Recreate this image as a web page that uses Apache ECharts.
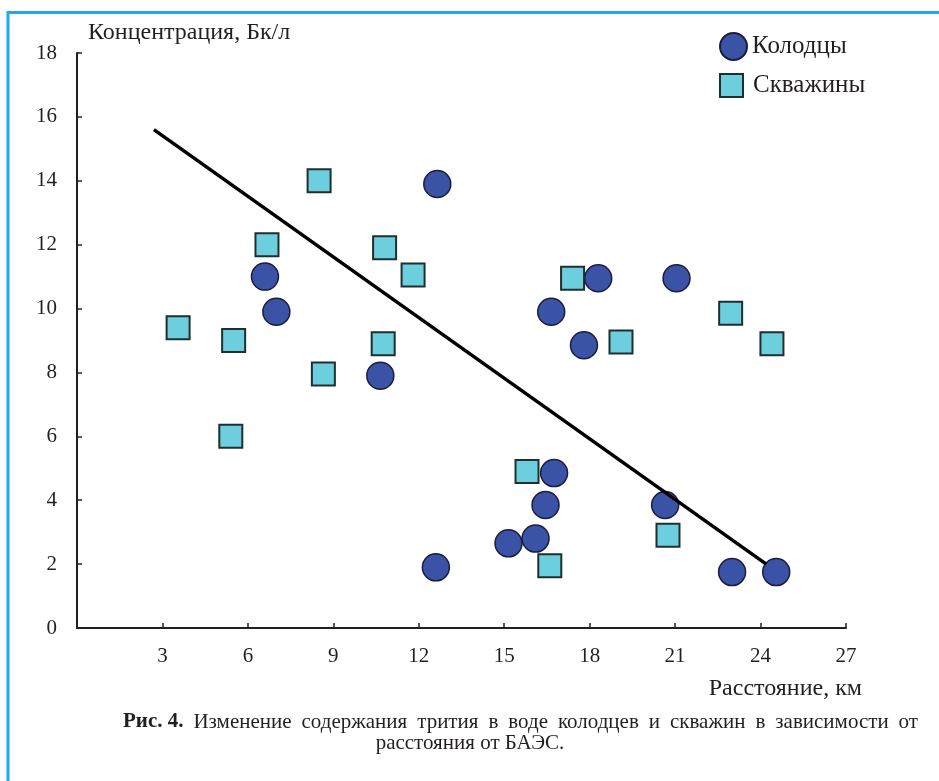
<!DOCTYPE html>
<html>
<head>
<meta charset="utf-8">
<script src="https://cdn.jsdelivr.net/npm/echarts@6/dist/echarts.min.js"></script>
<style>
  html, body { margin: 0; padding: 0; background: #ffffff; }
  #chart { width: 939px; height: 781px; }
</style>
</head>
<body>
<div id="chart"></div>
<script>
// Tritium concentration vs distance from the NPP
const xTicks = [3, 6, 9, 12, 15, 18, 21, 24, 27];
const yTicks = [0, 2, 4, 6, 8, 10, 12, 14, 16, 18];

// Wells (distance km, concentration Bq/l)
const wells = [
  [12.65, 13.9], [6.6, 11.0], [7.0, 9.9], [10.65, 7.9], [12.6, 1.9],
  [18.3, 10.95], [21.05, 10.95], [16.65, 9.9], [17.8, 8.85],
  [16.75, 4.85], [16.45, 3.85], [20.65, 3.85], [15.15, 2.65],
  [16.1, 2.8], [23.0, 1.75], [24.55, 1.75]
];

// Boreholes (distance km, concentration Bq/l)
const boreholes = [
  [8.5, 14.0], [6.67, 12.0], [10.8, 11.9], [11.8, 11.05], [3.55, 9.4],
  [5.5, 9.0], [10.75, 8.9], [8.65, 7.95], [5.4, 6.0], [17.4, 10.95],
  [22.95, 9.85], [19.1, 8.95], [24.4, 8.9], [15.8, 4.9], [20.75, 2.9],
  [16.6, 1.95]
];

// Trend line end points
const trend = [[2.7, 15.6], [24.2, 2.0]];

const captionLead = 'Рис. 4.';
const captionLine1 = 'Изменение содержания трития в воде колодцев и скважин в зависимости от';
const captionLine2 = 'расстояния от БАЭС.';

const textColor = '#231f20';
const serif = '"Liberation Serif", "DejaVu Serif", serif';

// Justify the first caption line between two x positions
function justifiedWords(lead, line, x0, x1, y, size) {
  const ctx = document.createElement('canvas').getContext('2d');
  const boldFont = 'bold ' + size + 'px ' + serif;
  const normFont = size + 'px ' + serif;
  ctx.font = boldFont;
  const leadW = ctx.measureText(lead).width;
  ctx.font = normFont;
  const words = line.split(' ');
  const widths = words.map(w => ctx.measureText(w).width);
  const total = leadW + widths.reduce((a, b) => a + b, 0);
  const gap = (x1 - x0 - total) / words.length;
  const out = [{ type: 'text', x: x0, y: y, style: { text: lead, fill: textColor, font: boldFont, textVerticalAlign: 'middle' } }];
  let x = x0 + leadW + gap;
  words.forEach((w, i) => {
    out.push({ type: 'text', x: x, y: y, style: { text: w, fill: textColor, font: normFont, textVerticalAlign: 'middle' } });
    x += widths[i] + gap;
  });
  return out;
}

const chart = echarts.init(document.getElementById('chart'), null, { renderer: 'canvas' });

chart.setOption({
  backgroundColor: '#ffffff',
  animation: false,
  grid: { left: 77, right: 93, top: 53, bottom: 153, containLabel: false },
  xAxis: {
    type: 'value',
    min: 0, max: 27, interval: 3,
    axisLine: { show: true, lineStyle: { color: textColor, width: 2 } },
    axisTick: { show: true, inside: true, length: 5, lineStyle: { color: textColor, width: 1.5 } },
    axisLabel: {
      showMinLabel: false,
      margin: 18,
      color: textColor, fontFamily: serif, fontSize: 21,
      formatter: v => xTicks.includes(v) ? String(v) : ''
    },
    splitLine: { show: false }
  },
  yAxis: {
    type: 'value',
    min: 0, max: 18, interval: 2,
    axisLine: { show: true, lineStyle: { color: textColor, width: 2 } },
    axisTick: { show: true, inside: true, length: 5, lineStyle: { color: textColor, width: 1.5 } },
    axisLabel: {
      margin: 20,
      color: textColor, fontFamily: serif, fontSize: 21,
      formatter: v => yTicks.includes(v) ? String(v) : ''
    },
    splitLine: { show: false }
  },
  legend: [
    {
      data: [{ name: 'Колодцы', icon: 'circle' }],
      left: 714, top: 27,
      itemWidth: 27, itemHeight: 27, itemGap: 7,
      textStyle: { color: textColor, fontFamily: serif, fontSize: 25 },
      selectedMode: false
    },
    {
      data: [{ name: 'Скважины', icon: 'rect' }],
      left: 714, top: 68,
      itemWidth: 23, itemHeight: 23, itemGap: 10,
      textStyle: { color: textColor, fontFamily: serif, fontSize: 25, padding: [0, 0, 0, 5] },
      selectedMode: false
    }
  ],
  series: [
    {
      name: 'Колодцы',
      type: 'scatter',
      data: wells,
      symbol: 'circle',
      symbolSize: 27,
      itemStyle: { color: '#3a53a6', borderColor: '#1b1d3d', borderWidth: 1.5, opacity: 1 }
    },
    {
      name: 'Скважины',
      type: 'scatter',
      data: boreholes,
      symbol: 'rect',
      symbolSize: 23,
      itemStyle: { color: '#6dcedd', borderColor: '#1f2f30', borderWidth: 2, opacity: 1 }
    },
    {
      name: 'trend',
      type: 'line',
      data: trend,
      showSymbol: false,
      symbol: 'none',
      lineStyle: { color: '#000000', width: 3.5 },
      z: 5,
      silent: true
    }
  ],
  graphic: [
    // frame
    { type: 'line', shape: { x1: 7, y1: 12.5, x2: 939, y2: 12.5 }, style: { stroke: '#1eaae3', lineWidth: 3 }, silent: true },
    { type: 'line', shape: { x1: 8, y1: 11, x2: 8, y2: 781 }, style: { stroke: '#1eaae3', lineWidth: 3 }, silent: true },
    // axis titles
    { type: 'text', x: 88, y: 33, style: { text: 'Концентрация, Бк/л', fill: textColor, font: '24px ' + serif, textVerticalAlign: 'middle' } },
    { type: 'text', x: 862, y: 689, style: { text: 'Расстояние, км', fill: textColor, font: '24px ' + serif, textAlign: 'right', textVerticalAlign: 'middle' } },
    // caption
    ...justifiedWords(captionLead, captionLine1, 123, 918, 722, 21),
    { type: 'text', x: 470, y: 743, style: { text: captionLine2, fill: textColor, font: '21px ' + serif, textAlign: 'center', textVerticalAlign: 'middle' } }
  ]
});
</script>
</body>
</html>
